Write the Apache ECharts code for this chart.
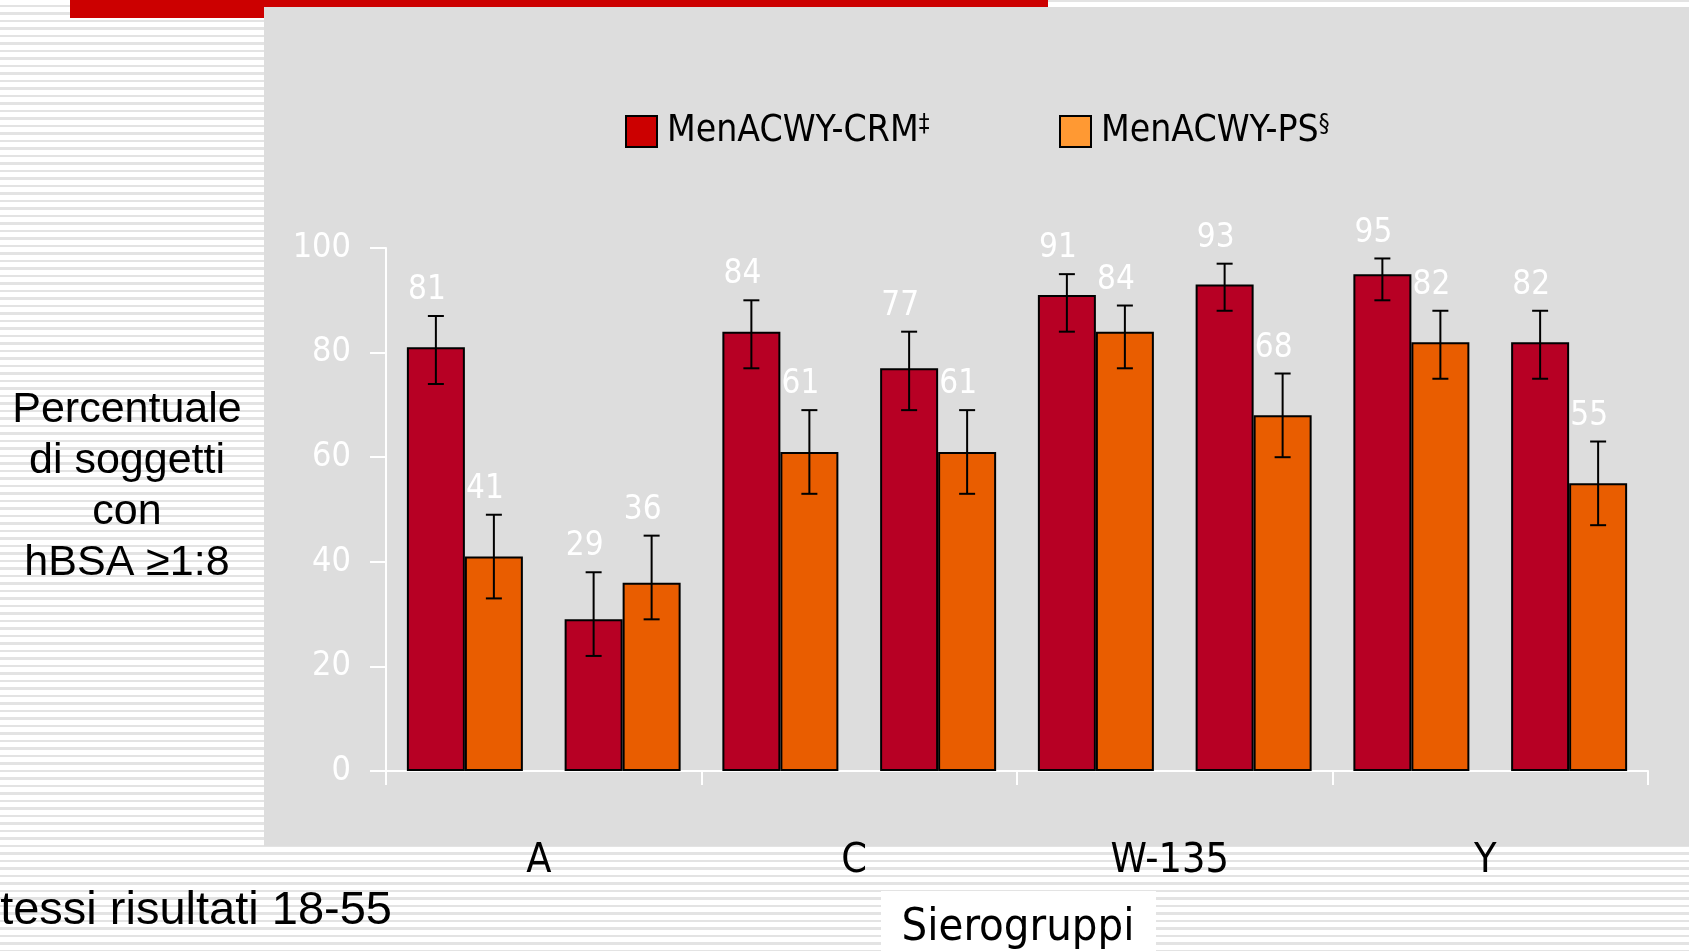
<!DOCTYPE html>
<html>
<head>
<meta charset="utf-8">
<script src="https://cdn.jsdelivr.net/npm/echarts@6/dist/echarts.min.js"></script>
<style>
  html, body { margin: 0; padding: 0; width: 1689px; height: 951px; overflow: hidden; }
  body {
    position: relative;
    background: repeating-linear-gradient(to bottom, #ffffff 0px, #ffffff 5px, #e3e3e3 5px, #e3e3e3 7.5px);
  }
  #topbar { position: absolute; left: 70px; top: 0; width: 978px; height: 7px; background: #cc0000; }
  #topbar2 { position: absolute; left: 70px; top: 0; width: 194px; height: 18px; background: #cc0000; }
  #topline { position: absolute; left: 1048px; top: 0; right: 0; height: 7px; background: #fff; border-top: 2px solid #e3e3e3; box-sizing: border-box; }
  #panel { position: absolute; left: 264px; top: 7px; right: 0; height: 839px; background: #dddddd; }
  #chart { position: absolute; left: 0; top: 0; width: 1689px; height: 951px; }
</style>
</head>
<body>
<div id="topbar"></div>
<div id="topbar2"></div>
<div id="topline"></div>
<div id="panel"></div>
<div id="chart"></div>
<script>
// sierogruppi, due colonne per gruppo
var groups = ["A", "C", "W-135", "Y"];
var slots = ["A-1", "A-2", "C-1", "C-2", "W-135-1", "W-135-2", "Y-1", "Y-2"];
var seriesNames = ["MenACWY-CRM", "MenACWY-PS"];
var seriesMarks = ["‡", "§"];

var crm = [81, 29, 84, 77, 91, 93, 95, 82];
var crmLow = [74, 22, 77, 69, 84, 88, 90, 75];
var crmHigh = [87, 38, 90, 84, 95, 97, 98, 88];

var ps = [41, 36, 61, 61, 84, 68, 82, 55];
var psLow = [33, 29, 53, 53, 77, 60, 75, 47];
var psHigh = [49, 45, 69, 69, 89, 76, 88, 63];

var yMin = 0, yMax = 100, yStep = 20;

var condensed = '"DejaVu Sans Condensed", "Liberation Sans Narrow", "DejaVu Sans", sans-serif';
var arial = '"Liberation Sans", Arial, sans-serif';
var barW = 58;

var myChart = echarts.init(document.getElementById("chart"));

function errorBars(vals, lo, hi, shift) {
  return {
    type: "custom",
    xAxisIndex: 0,
    yAxisIndex: 0,
    z: 5,
    silent: true,
    data: vals.map(function (v, i) { return [i, lo[i], hi[i], v]; }),
    renderItem: function (params, api) {
      var x = api.coord([api.value(0), 0])[0] + shift;
      var top = api.coord([api.value(0), api.value(2)])[1];
      var bot = api.coord([api.value(0), api.value(1)])[1];
      var st = { stroke: "#000", lineWidth: 2 };
      return {
        type: "group",
        children: [
          { type: "line", shape: { x1: x, y1: top, x2: x, y2: bot }, style: st },
          { type: "line", shape: { x1: x - 8, y1: top, x2: x + 8, y2: top }, style: st },
          { type: "line", shape: { x1: x - 8, y1: bot, x2: x + 8, y2: bot }, style: st },
          {
            type: "text",
            style: {
              text: String(api.value(3)),
              x: x - 9,
              y: top - 9,
              align: "center",
              verticalAlign: "bottom",
              fill: "#fff",
              font: "33px " + condensed
            }
          }
        ]
      };
    }
  };
}

function legendFor(i, color, left) {
  return {
    data: [{ name: seriesNames[i], itemStyle: { color: color, borderColor: "#000", borderWidth: 2 } }],
    left: left,
    top: 108,
    itemWidth: 31,
    itemHeight: 31,
    icon: "rect",
    formatter: function (n) { return n + "{s|" + seriesMarks[i] + "}"; },
    textStyle: {
      color: "#000",
      fontSize: 37,
      fontFamily: condensed,
      padding: [0, 0, 0, 5],
      rich: { s: { fontSize: 24, fontFamily: condensed, color: "#000", verticalAlign: "top", lineHeight: 30 } }
    }
  };
}

var option = {
  animation: false,
  backgroundColor: "transparent",
  legend: [legendFor(0, "#cc0000", 620), legendFor(1, "#ff9933", 1054)],
  grid: { left: 386, right: 41, top: 248, bottom: 180 },
  xAxis: [
    {
      type: "category",
      data: slots,
      show: false
    },
    {
      type: "category",
      data: groups,
      position: "bottom",
      axisLine: { lineStyle: { color: "#fff", width: 2 } },
      axisTick: { show: true, length: 14, lineStyle: { color: "#fff", width: 2 } },
      axisLabel: { color: "#000", fontSize: 41, fontFamily: condensed, margin: 70, padding: [0, 10, 0, 0] }
    }
  ],
  yAxis: {
    type: "value",
    min: yMin,
    max: yMax,
    interval: yStep,
    splitLine: { show: false },
    axisLine: { show: true, lineStyle: { color: "#fff", width: 2 } },
    axisTick: { show: true, length: 16, lineStyle: { color: "#fff", width: 2 } },
    axisLabel: { color: "#fff", fontSize: 34, fontFamily: condensed, margin: 35 }
  },
  series: [
    {
      name: seriesNames[0],
      type: "bar",
      data: crm,
      barWidth: barW,
      barGap: "0%",
      itemStyle: { color: "#b70024", borderColor: "#000", borderWidth: 2 }
    },
    {
      name: seriesNames[1],
      type: "bar",
      data: ps,
      barWidth: barW,
      barGap: "0%",
      itemStyle: { color: "#e95d00", borderColor: "#000", borderWidth: 2 }
    },
    errorBars(crm, crmLow, crmHigh, -barW / 2),
    errorBars(ps, psLow, psHigh, barW / 2)
  ],
  graphic: [
    {
      type: "text",
      x: 127,
      y: 385,
      style: {
        text: "Percentuale\ndi soggetti\ncon\nhBSA ≥1:8",
        align: "center",
        font: "43px " + arial,
        lineHeight: 51,
        fill: "#000"
      }
    },
    {
      type: "text",
      x: 392,
      y: 911,
      style: { text: "tessi risultati 18-55", align: "right", verticalAlign: "middle", font: "47px " + arial, fill: "#000" }
    },
    {
      type: "rect",
      shape: { x: 881, y: 891, width: 275, height: 60 },
      style: { fill: "#fff" }
    },
    {
      type: "text",
      x: 1018,
      y: 928,
      style: { text: "Sierogruppi", align: "center", verticalAlign: "middle", font: "45px " + condensed, fill: "#000" }
    }
  ]
};

myChart.setOption(option);
</script>
</body>
</html>
